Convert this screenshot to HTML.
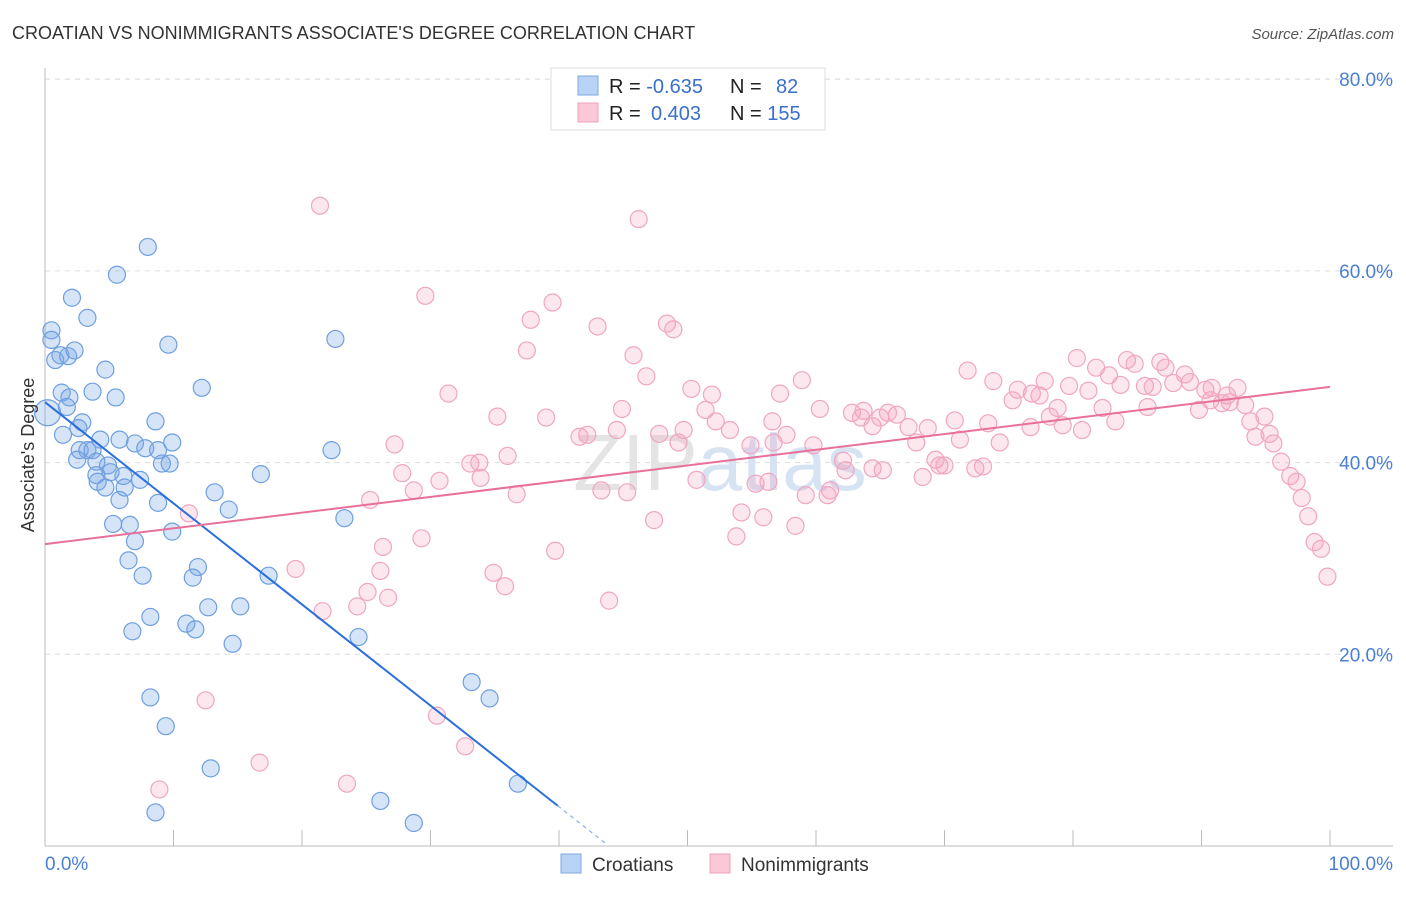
<!DOCTYPE html>
<html><head><meta charset="utf-8"><style>
body{margin:0;background:#fff;font-family:"Liberation Sans",sans-serif;}
svg text{font-family:"Liberation Sans",sans-serif;}
</style></head><body>
<svg id="chart" width="1406" height="892" xmlns="http://www.w3.org/2000/svg">
<text x="12" y="39" font-size="18" fill="#333">CROATIAN VS NONIMMIGRANTS ASSOCIATE'S DEGREE CORRELATION CHART</text>
<text x="1394" y="39" font-size="15" fill="#555" font-style="italic" text-anchor="end">Source: ZipAtlas.com</text>
<g id="grid"></g>
<text x="720" y="490" font-size="80" fill="#e4e4e4" text-anchor="middle" font-family="Liberation Serif">ZIP<tspan fill="#d6e3f3" font-family="Liberation Sans">atlas</tspan></text>
<g id="axes"></g>
<g id="pts"></g>
<g id="lines"></g>
<text x="34" y="455" font-size="18" fill="#333" text-anchor="middle" transform="rotate(-90 34 455)">Associate's Degree</text>
<g>
<rect x="551" y="68" width="274" height="62" fill="#fff" stroke="#ddd"/>
<rect x="578" y="76" width="20" height="19" fill="#b8d3f5" stroke="#7fa8e0"/>
<rect x="578" y="103" width="20" height="19" fill="#fac8d6" stroke="#f0a0bc"/>
<text x="609" y="93" font-size="20" fill="#222">R = <tspan fill="#3a6fcc">-0.635</tspan></text>
<text x="730" y="93" font-size="20" fill="#222">N = <tspan fill="#3a6fcc" x="776">82</tspan></text>
<text x="609" y="120" font-size="20" fill="#222">R = <tspan fill="#3a6fcc" x="651">0.403</tspan></text>
<text x="730" y="120" font-size="20" fill="#222">N = <tspan fill="#3a6fcc">155</tspan></text>
</g>
<g>
<rect x="561" y="854" width="20" height="19" fill="#b8d3f5" stroke="#7fa8e0"/>
<text x="592" y="871" font-size="19" fill="#333">Croatians</text>
<rect x="710" y="854" width="20" height="19" fill="#fac8d6" stroke="#f0a0bc"/>
<text x="741" y="871" font-size="19" fill="#333">Nonimmigrants</text>
</g>
<script>
const yTicks=[20,40,60,80];
const yTickLabels=["20.0%","40.0%","60.0%","80.0%"];
const xTicks=[0,10,20,30,40,50,60,70,80,90,100];
const blueX=[0.2,0.5,0.5,0.8,1.2,1.8,2.3,2.1,3.3,5.6,8.0,1.3,1.9,1.7,3.7,4.7,5.5,9.6,12.2,22.6,2.9,1.4,2.6,4.3,5.8,7.0,7.8,8.6,9.9,8.8,2.7,3.3,3.7,2.5,4.0,4.9,5.1,9.1,9.7,4.0,6.1,7.4,4.1,4.7,6.2,5.8,8.8,13.2,14.3,16.8,22.3,5.3,6.6,7.0,9.9,6.5,7.6,11.9,11.5,17.4,23.3,12.7,15.2,8.2,11.0,11.7,6.8,14.6,24.4,8.2,9.4,33.2,34.6,12.9,36.8,26.1,8.6,28.7];
const blueY=[45.2,53.8,52.8,50.7,51.2,51.1,51.7,57.2,55.1,59.6,62.5,47.3,46.8,45.8,47.4,49.7,46.8,52.3,47.8,52.9,44.2,42.9,43.6,42.4,42.4,42.0,41.5,44.3,42.1,41.3,41.3,41.3,41.3,40.3,40.1,39.7,39.0,39.9,39.9,38.7,38.6,38.2,38.0,37.4,37.4,36.1,35.8,36.9,35.1,38.8,41.3,33.6,33.5,31.8,32.8,29.8,28.2,29.1,28.0,28.2,34.2,24.9,25.0,23.9,23.2,22.6,22.4,21.1,21.8,15.5,12.5,17.1,15.4,8.1,6.5,4.7,3.5,2.4];
const pinkX=[21.4,46.2,29.6,39.5,37.8,43.0,48.4,48.9,37.5,45.8,46.8,31.4,50.3,51.9,57.2,58.9,71.8,73.8,80.3,81.8,82.8,84.2,84.8,86.8,87.2,88.7,75.7,76.8,77.8,79.7,81.2,83.7,85.6,86.2,87.8,89.1,90.3,90.8,92.8,92.0,90.7,91.6,92.2,93.4,89.8,85.8,82.3,78.8,75.3,77.4,93.8,94.9,94.2,95.3,95.6,83.3,78.2,79.2,76.7,73.4,70.8,66.3,62.8,63.5,64.4,65.0,65.6,63.7,60.3,67.2,68.7,71.2,74.3,80.7,96.2,96.9,97.4,97.8,98.3,98.8,99.3,99.8,51.4,52.2,53.3,54.9,56.7,57.7,56.6,49.7,49.3,47.8,44.5,42.2,41.6,44.9,39.0,35.2,27.2,33.8,36.0,33.1,33.9,27.8,30.7,28.7,25.3,36.7,43.3,45.3,50.7,55.3,56.3,54.2,55.9,53.8,58.4,47.4,59.2,60.9,61.1,62.3,59.8,62.1,65.2,67.8,69.3,69.6,70.0,68.3,72.4,73.0,64.4,26.3,29.3,39.7,26.1,19.5,34.9,35.8,25.1,26.7,24.3,21.6,43.9,11.2,12.5,30.5,32.7,16.7,8.9,23.5];
const pinkY=[66.8,65.4,57.4,56.7,54.9,54.2,54.5,53.9,51.7,51.2,49.0,47.2,47.7,47.1,47.2,48.6,49.6,48.5,50.9,49.9,49.1,50.7,50.3,50.5,49.9,49.2,47.6,47.2,48.5,48.0,47.5,48.1,48.0,47.9,48.3,48.4,47.6,47.8,47.8,47.0,46.5,46.2,46.3,46.0,45.5,45.8,45.7,45.7,46.5,47.0,44.3,44.8,42.7,43.0,42.0,44.3,44.8,43.9,43.7,44.1,44.4,45.0,45.2,44.7,43.8,44.7,45.2,45.4,45.6,43.7,43.6,42.4,42.1,43.4,40.1,38.6,38.0,36.3,34.4,31.7,31.0,28.1,45.5,44.3,43.4,41.8,42.1,42.9,44.3,43.4,42.1,43.0,43.4,42.9,42.7,45.6,44.7,44.8,41.9,40.0,40.7,39.9,38.4,38.9,38.1,37.1,36.1,36.7,37.1,36.9,38.2,37.8,38.0,34.8,34.3,32.3,33.4,34.0,36.6,36.6,37.1,39.2,41.8,40.2,39.2,42.1,40.3,39.7,39.7,38.5,39.4,39.6,39.4,31.2,32.1,30.8,28.7,28.9,28.5,27.1,26.5,25.9,25.0,24.5,25.6,34.7,15.2,13.6,10.4,8.7,5.9,6.5];
const blueTrend=[46.3,4.2];
const blueTrendEnd=39.9, blueDashEnd=43.6;
const pinkTrend=[31.5,47.9];

const X=v=>45+v*12.85, Y=v=>846-v*9.585;
const NS="http://www.w3.org/2000/svg";
function mk(tag,attrs,parent){const e=document.createElementNS(NS,tag);for(const k in attrs)e.setAttribute(k,attrs[k]);parent.appendChild(e);return e;}
const gridG=document.getElementById('grid'),axesG=document.getElementById('axes'),ptsG=document.getElementById('pts'),linesG=document.getElementById('lines');
yTicks.forEach((t,i)=>{
  const l=mk('line',{x1:45,x2:1393,y1:Y(t),y2:Y(t),stroke:'#ddd','stroke-dasharray':'5,5'},gridG);
  
  
  const tx=mk('text',{x:1393,y:Y(t)+7,'font-size':19,fill:'#4a7fd4','text-anchor':'end'},axesG);
  tx.textContent=yTickLabels[i];
  
  
});
const topLine=mk('line',{x1:45,x2:1393,y1:79,y2:79,stroke:'#ddd','stroke-dasharray':'5,5'},gridG);


const ax=mk('line',{x1:45,x2:1393,y1:846,y2:846,stroke:'#bbb'},axesG);


const ay=mk('line',{x1:45,x2:45,y1:68,y2:846,stroke:'#bbb'},axesG);


xTicks.forEach(t=>{
  const l=mk('line',{x1:X(t),x2:X(t),y1:830,y2:846,stroke:'#bbb'},axesG);
  
  
});
const xl0=mk('text',{x:45,y:870,'font-size':19,fill:'#4a7fd4'},axesG);xl0.textContent='0.0%';


const xl1=mk('text',{x:1393,y:870,'font-size':19,fill:'#4a7fd4','text-anchor':'end'},axesG);xl1.textContent='100.0%';


pinkX.forEach((x,i)=>{
  const c=mk('circle',{cx:X(x),cy:Y(pinkY[i]),r:8.5,fill:'rgba(244,160,188,0.25)',stroke:'#f0a6c0','stroke-width':1.2},ptsG);
  
  
});
blueX.forEach((x,i)=>{
  const c=mk('circle',{cx:X(x),cy:Y(blueY[i]),r:i===0?13:8.5,fill:'rgba(120,165,230,0.3)',stroke:'#6f9fe0','stroke-width':1.2},ptsG);
  
  
});
const slope=(blueTrend[1]-blueTrend[0])/blueTrendEnd;
const bl=mk('line',{x1:X(0),y1:Y(blueTrend[0]),x2:X(blueTrendEnd),y2:Y(blueTrend[1]),stroke:'#2a6fdb','stroke-width':2},linesG);


const bd=mk('line',{x1:X(blueTrendEnd),y1:Y(blueTrend[1]),x2:X(blueDashEnd),y2:Y(blueTrend[0]+slope*blueDashEnd),stroke:'#8ab0e8','stroke-width':1.2,'stroke-dasharray':'4,4'},linesG);


const pl=mk('line',{x1:X(0),y1:Y(pinkTrend[0]),x2:X(100),y2:Y(pinkTrend[1]),stroke:'#e8709a','stroke-width':2},linesG);


</script>
</svg>
</body></html>
